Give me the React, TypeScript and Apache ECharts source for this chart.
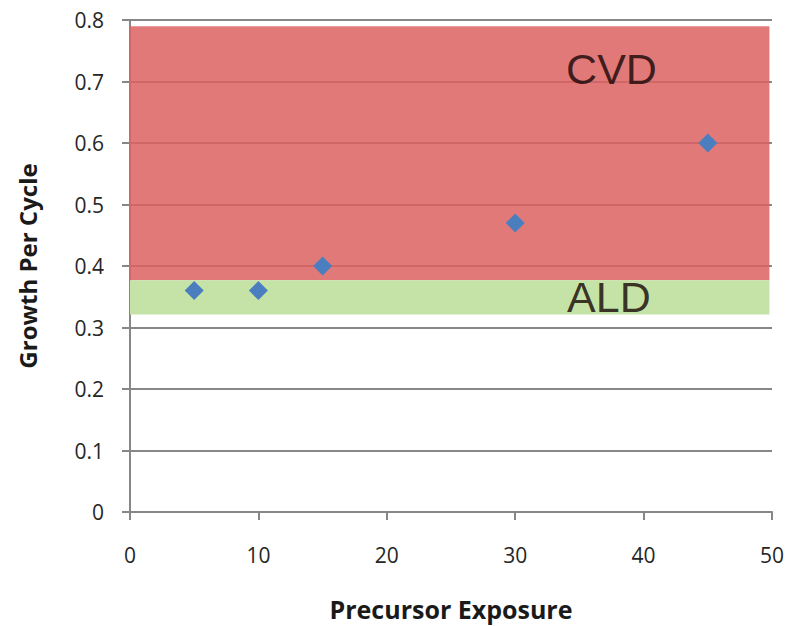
import React, { useEffect, useRef } from "react";
import * as echarts from "echarts";

const exposure = [5, 10, 15, 30, 45];
const growthPerCycle = [0.36, 0.36, 0.40, 0.47, 0.60];

const xTicks = [0, 10, 20, 30, 40, 50];
const yTicks = [0, 0.1, 0.2, 0.3, 0.4, 0.5, 0.6, 0.7, 0.8];

// Regions: [xStart, yTop, xEnd, yBottom]
const cvdRegion = [0, 0.79, 49.8, 0.377];
const aldRegion = [0, 0.377, 49.8, 0.321];

const regionLabels = ["CVD", "ALD"];
const regionLabelX = [37.5, 37.3];
const regionLabelY = [0.72, 0.349];

export default function App() {
  const ref = useRef<HTMLDivElement>(null);
  useEffect(() => {
    if (!ref.current) return;
    const chart = echarts.init(ref.current, undefined, { renderer: "svg" });
    const font = "'Open Sans', Lato, sans-serif";
    chart.setOption({
      animation: false,
      grid: { left: 130, right: 33, top: 20, bottom: 113 },
      xAxis: {
        type: "value",
        min: xTicks[0],
        max: xTicks[xTicks.length - 1],
        interval: 10,
        name: "Precursor Exposure",
        nameLocation: "middle",
        nameGap: 84,
        nameTextStyle: { fontFamily: font, fontWeight: "bold", fontSize: 25, color: "#1a1a1a" },
        axisLine: { show: true, lineStyle: { color: "#878787", width: 2 } },
        axisTick: { show: true, length: 8, lineStyle: { color: "#878787", width: 2 } },
        axisLabel: { margin: 32, fontFamily: font, fontSize: 21, color: "#262626" },
        splitLine: { show: false },
      },
      yAxis: {
        type: "value",
        min: yTicks[0],
        max: yTicks[yTicks.length - 1],
        interval: 0.1,
        name: "Growth Per Cycle",
        nameLocation: "middle",
        nameGap: 91,
        nameTextStyle: { fontFamily: font, fontWeight: "bold", fontSize: 24, color: "#1a1a1a" },
        axisLine: { show: true, lineStyle: { color: "#878787", width: 2 } },
        axisTick: { show: true, length: 8, lineStyle: { color: "#878787", width: 2 } },
        axisLabel: {
          margin: 26,
          fontFamily: font,
          fontSize: 21,
          color: "#262626",
          formatter: (v: number) => (v === 0 ? "0" : v.toFixed(1)),
        },
        splitLine: { show: true, lineStyle: { color: "#878787", width: 2 } },
      },
      series: [
        {
          type: "scatter",
          data: [],
          markArea: {
            silent: true,
            data: [
              [
                { coord: [cvdRegion[0], cvdRegion[1]], itemStyle: { color: "rgba(221,97,97,0.85)" } },
                { coord: [cvdRegion[2], cvdRegion[3]] },
              ],
              [
                { coord: [aldRegion[0], aldRegion[1]], itemStyle: { color: "#C5E3A6" } },
                { coord: [aldRegion[2], aldRegion[3]] },
              ],
            ],
          },
        },
        {
          type: "scatter",
          symbol: "diamond",
          symbolSize: 19,
          itemStyle: { color: "#4A7EBF", opacity: 1 },
          data: exposure.map((x, i) => [x, growthPerCycle[i]]),
          z: 5,
        },
        {
          type: "scatter",
          symbolSize: 1,
          itemStyle: { color: "transparent" },
          z: 6,
          label: {
            show: true,
            position: "inside",
            formatter: (p: any) => p.name,
            fontFamily: "'Liberation Sans', Arial, sans-serif",
            fontSize: 43,
            color: "#140404",
          },
          data: regionLabels.map((n, i) => ({ name: n, value: [regionLabelX[i], regionLabelY[i]] })),
        },
      ],
    });
    return () => chart.dispose();
  }, []);
  return <div ref={ref} style={{ width: 805, height: 626, position: "absolute", left: 0, top: 0 }} />;
}
